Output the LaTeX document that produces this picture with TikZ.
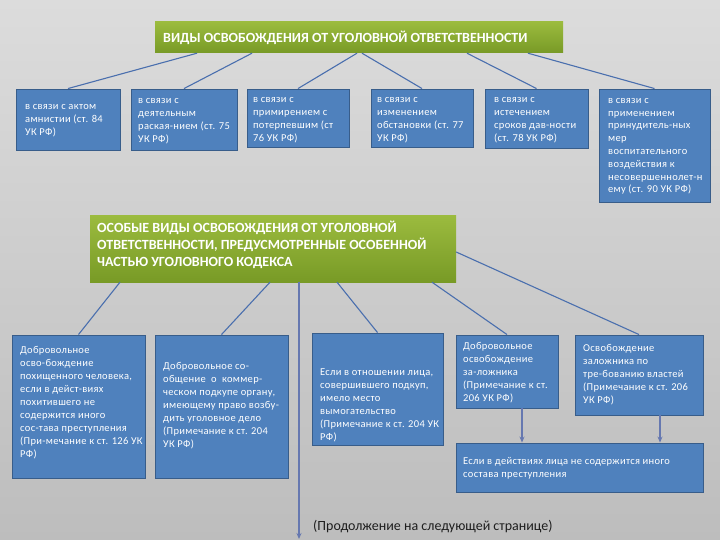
\documentclass[tikz,border=0pt]{standalone}
\usepackage{fontspec}
\setmainfont{Carlito}
\newfontfamily\spacedfont[LetterSpace=3]{Carlito}
\usetikzlibrary{arrows.meta,shadows}
\definecolor{bgtop}{HTML}{DCDCDC}
\definecolor{bgbot}{HTML}{BDBDBD}
\definecolor{boxblue}{HTML}{4F81BD}
\definecolor{boxedge}{HTML}{385D8A}
\definecolor{greentop}{HTML}{9BBB3E}
\definecolor{greenbot}{HTML}{789A26}
\definecolor{lineblue}{HTML}{4A6FAE}
\definecolor{arrowblue}{HTML}{6678B0}
\definecolor{notegray}{HTML}{1E1E1E}
\tikzset{
  bluebox/.style={draw=boxedge, fill=boxblue, line width=0.9pt, inner sep=0pt,
    drop shadow={shadow xshift=1.2pt, shadow yshift=-1.2pt, opacity=0.3}},
  greenbox/.style={draw=none, top color=greentop, bottom color=greenbot, inner sep=0pt},
  boxtext/.style={text=white, align=left, inner sep=0pt, anchor=west,
    font=\spacedfont\fontsize{10.5}{12.8}\selectfont},
  lowtext/.style={boxtext, font=\spacedfont\fontsize{10.5}{13}\selectfont},
  titletext/.style={text=white, align=left, inner sep=0pt, anchor=west,
    font=\fontsize{14}{17}\selectfont\bfseries},
  conn/.style={draw=lineblue, line width=1.1pt},
  arr/.style={draw=arrowblue, line width=1.2pt, -{Stealth[length=6pt,width=5pt]}}
}
\begin{document}
\begin{tikzpicture}[x=1pt,y=-1pt]
\useasboundingbox (0,0) rectangle (720,540);
\shade[top color=bgtop, bottom color=bgbot] (0,0) rectangle (720,540);

% titles
\node[greenbox, minimum width=408pt, minimum height=31pt] (g1) at (359,37.5) {};
\node[titletext] (g1t) at (163,38) {ВИДЫ ОСВОБОЖДЕНИЯ ОТ УГОЛОВНОЙ ОТВЕТСТВЕННОСТИ};
\node[greenbox, minimum width=366pt, minimum height=66pt] (g2) at (273,249) {};
\node[titletext] (g2t) at (97,245) {ОСОБЫЕ ВИДЫ ОСВОБОЖДЕНИЯ ОТ УГОЛОВНОЙ\\ОТВЕТСТВЕННОСТИ, ПРЕДУСМОТРЕННЫЕ ОСОБЕННОЙ\\ЧАСТЬЮ УГОЛОВНОГО КОДЕКСА};

% row 1
\node[bluebox, minimum width=104pt, minimum height=61pt] (b1) at (68,119.5) {};
\node[boxtext] (t1) at (25,120.5) {в связи с актом\\амнистии (ст. 84\\УК РФ)};
\node[bluebox, minimum width=106pt, minimum height=61pt] (b2) at (184,119.5) {};
\node[boxtext] (t2) at (138,121) {в связи с\\деятельным\\раская-нием (ст. 75\\УК РФ)};
\node[bluebox, minimum width=102pt, minimum height=58pt] (b3) at (298,118) {};
\node[boxtext] (t3) at (253,120) {в связи с\\примирением с\\потерпевшим (ст\\76 УК РФ)};
\node[bluebox, minimum width=102pt, minimum height=58pt] (b4) at (422,118) {};
\node[boxtext] (t4) at (377,120) {в связи с\\изменением\\обстановки (ст. 77\\УК РФ)};
\node[bluebox, minimum width=103pt, minimum height=59pt] (b5) at (536.5,118.5) {};
\node[boxtext] (t5) at (494,120) {в связи с\\истечением\\сроков дав-ности\\(ст. 78 УК РФ)};
\node[bluebox, minimum width=111pt, minimum height=113pt] (b6) at (654.5,145.5) {};
\node[boxtext] (t6) at (608,146.5) {в связи с\\применением\\принудитель-ных\\мер\\воспитательного\\воздействия к\\несовершеннолет-н\\ему (ст. 90 УК РФ)};

% row 2
\node[bluebox, minimum width=133pt, minimum height=143pt] (bA) at (78.5,406.5) {};
\node[lowtext] (tA) at (20,403) {Добровольное\\осво-бождение\\похищенного человека,\\если в дейст-виях\\похитившего не\\содержится иного\\сос-тава преступления\\(При-мечание к ст. 126 УК\\РФ)};
\node[bluebox, minimum width=133pt, minimum height=143pt] (bB) at (221.5,406.5) {};
\node[lowtext] (tB) at (163,406) {Добровольное со-\\общение\ \ о\ \ коммер-\\ческом подкупе органу,\\имеющему право возбу-\\дить уголовное дело\\(Примечание к ст. 204\\УК РФ)};
\node[bluebox, minimum width=131pt, minimum height=112pt] (bC) at (377.5,389) {};
\node[lowtext] (tC) at (320,405) {Если в отношении лица,\\совершившего подкуп,\\имело место\\вымогательство\\(Примечание к ст. 204 УК\\РФ)};
\node[bluebox, minimum width=102pt, minimum height=73pt] (bD) at (507,371.5) {};
\node[lowtext] (tD) at (463,372.5) {Добровольное\\освобождение\\за-ложника\\(Примечание к ст.\\206 УК РФ)};
\node[bluebox, minimum width=128pt, minimum height=80pt] (bE) at (639,375) {};
\node[lowtext] (tE) at (583,375) {Освобождение\\заложника по\\тре-бованию властей\\(Примечание к ст. 206\\УК РФ)};
\node[bluebox, minimum width=247pt, minimum height=49pt] (bF) at (579.5,467.5) {};
\node[lowtext] (tF) at (463,468.5) {Если в действиях лица не содержится иного\\состава преступления};

% note
\node[anchor=west, inner sep=0pt, text=notegray, font=\fontsize{14}{16}\selectfont] (note) at (313,527) {(Продолжение на следующей странице)};
\coordinate (down) at (299,539);

% connectors row 1
\draw[conn] ([xshift=-162pt]g1.south) -- (b1.north);
\draw[conn] ([xshift=-107pt]g1.south) -- (b2.north);
\draw[conn] ([xshift=-2pt]g1.south) -- (b3.north);
\draw[conn] ([xshift=3pt]g1.south) -- (b4.north);
\draw[conn] ([xshift=108pt]g1.south) -- (b5.north);
\draw[conn] ([xshift=169pt]g1.south) -- (b6.north);

% connectors row 2
\draw[conn] ([xshift=-153pt]g2.south) -- (bA.north);
\draw[conn] ([xshift=-3pt]g2.south) -- (bB.north);
\draw[conn] ([xshift=64pt]g2.south) -- (bC.north);
\draw[conn] ([xshift=159pt]g2.south) -- (bD.north);
\draw[conn] ([yshift=-3pt]g2.east) -- (bE.north);
\draw[arr] ([xshift=26pt]g2.south) -- (down);

% arrows to F
\draw[arr] ([xshift=15pt]bD.south) -- ([xshift=15pt]bD.south |- bF.north);
\draw[arr] ([xshift=21pt]bE.south) -- ([xshift=21pt]bE.south |- bF.north);
\end{tikzpicture}
\end{document}
